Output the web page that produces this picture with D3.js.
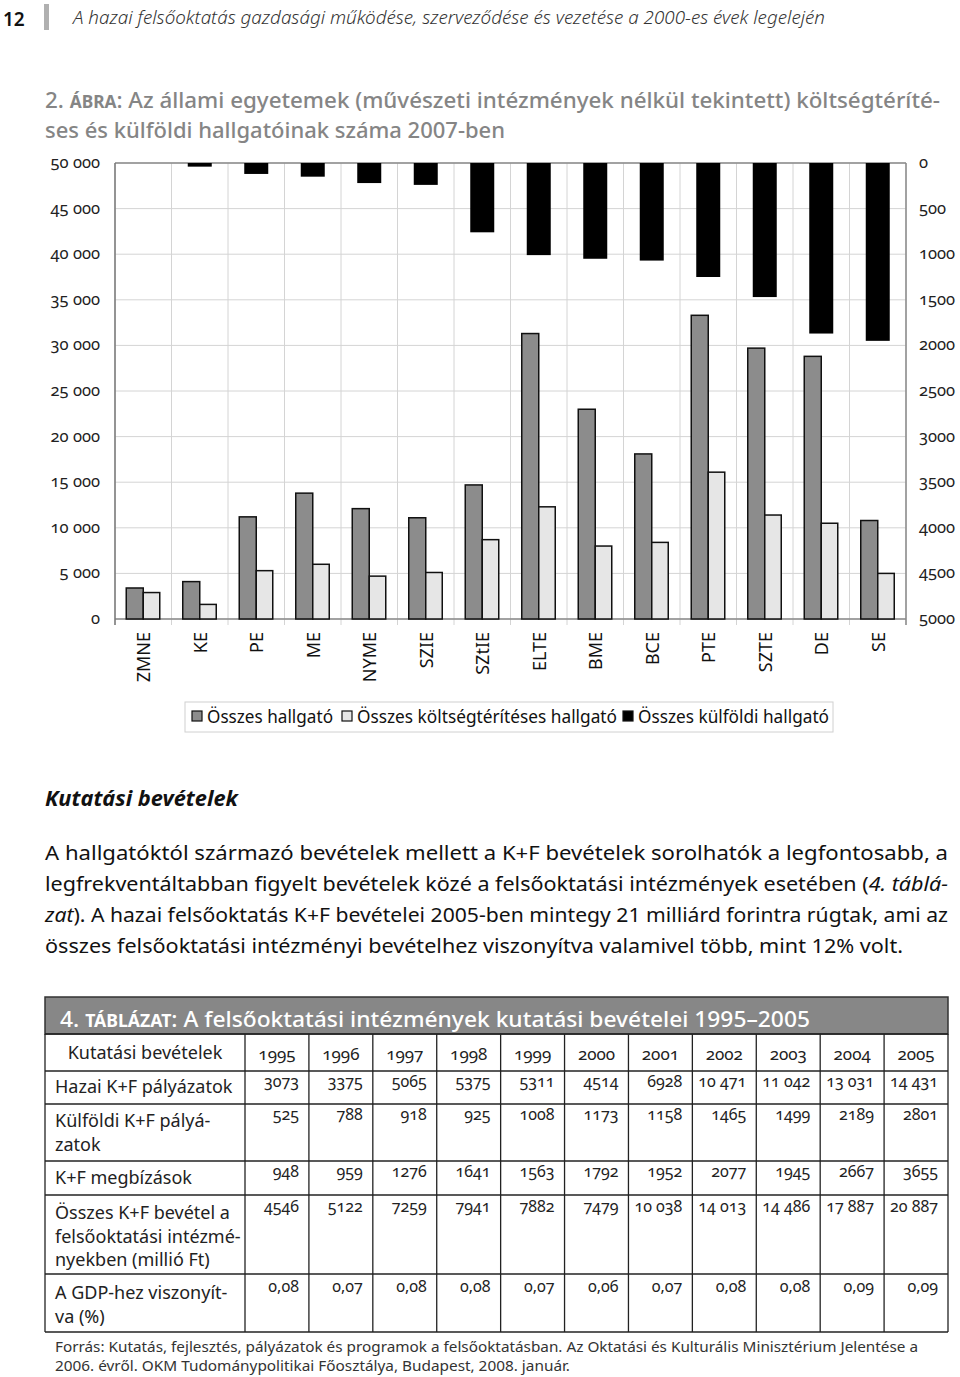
<!DOCTYPE html>
<meta charset="utf-8">
<style>
body { margin: 0; background: #fff; }
svg text { font-family: "Noto Sans", "Open Sans", sans-serif; }
.tick { font-size: 16.5px; fill: #222; font-variant-numeric: oldstyle-nums; }
.cat { font-size: 18px; fill: #111; }
.leg { font-size: 18px; fill: #111; }
.body { font-size: 20px; fill: #111; }
.cell { font-size: 16px; fill: #222; font-variant-numeric: oldstyle-nums; }
.rowlab { font-size: 18px; fill: #222; }
</style>
<script src="https://cdn.jsdelivr.net/npm/d3@7"></script>
<body>
<script>

// chart data
var universities = ["ZMNE", "KE", "PE", "ME", "NYME", "SZIE", "SZtIE", "ELTE", "BME", "BCE", "PTE", "SZTE", "DE", "SE"];
var osszesHallgato = [3400, 4100, 11200, 13800, 12100, 11100, 14700, 31300, 23000, 18100, 33300, 29700, 28800, 10800];
var koltsegterites = [2900, 1600, 5300, 6000, 4700, 5100, 8700, 12300, 8000, 8400, 16100, 11400, 10500, 5000];
var kulfoldi = [0, 40, 120, 150, 220, 240, 760, 1010, 1050, 1070, 1250, 1470, 1870, 1950];
var leftTicks = [0, 5000, 10000, 15000, 20000, 25000, 30000, 35000, 40000, 45000, 50000];
var rightTicks = [0, 500, 1000, 1500, 2000, 2500, 3000, 3500, 4000, 4500, 5000];
var legendLabels = ["Összes hallgató", "Összes költségtérítéses hallgató", "Összes külföldi hallgató"];

// table data
var years = [1995, 1996, 1997, 1998, 1999, 2000, 2001, 2002, 2003, 2004, 2005];
var hazaiKF = [3073, 3375, 5065, 5375, 5311, 4514, 6928, 10471, 11042, 13031, 14431];
var kulfoldiKF = [525, 788, 918, 925, 1008, 1173, 1158, 1465, 1499, 2189, 2801];
var kfMegbizasok = [948, 959, 1276, 1641, 1563, 1792, 1952, 2077, 1945, 2667, 3655];
var osszesKF = [4546, 5122, 7259, 7941, 7882, 7479, 10038, 14013, 14486, 17887, 20887];
var gdpArany = [0.08, 0.07, 0.08, 0.08, 0.07, 0.06, 0.07, 0.08, 0.08, 0.09, 0.09];

var width = 960, height = 1377;

var svg = d3.select("body").append("svg")
    .attr("width", width)
    .attr("height", height);

// ---- page header
svg.append("text").attr("x", 3).attr("y", 26)
    .style("font-size", "19px").style("font-weight", 600).attr("fill", "#111").text("12");
svg.append("rect").attr("x", 44).attr("y", 4).attr("width", 5).attr("height", 26).attr("fill", "#b0b0b0");
svg.append("text").attr("x", 73).attr("y", 24)
    .attr("textLength", 752).attr("lengthAdjust", "spacingAndGlyphs")
    .style("font-size", "18px").style("font-style", "italic").style("font-weight", 300).attr("fill", "#333")
    .text("A hazai felsőoktatás gazdasági működése, szerveződése és vezetése a 2000-es évek legelején");

// ---- figure title
var t1 = svg.append("text").attr("x", 45).attr("y", 108)
    .attr("textLength", 895).attr("lengthAdjust", "spacingAndGlyphs")
    .style("font-size", "22px").style("font-weight", 500).attr("fill", "#858585");
t1.append("tspan").text("2. ");
t1.append("tspan").style("font-size", "17px").style("font-weight", 700).text("ÁBRA");
t1.append("tspan").text(": Az állami egyetemek (művészeti intézmények nélkül tekintett) költségtéríté-");
svg.append("text").attr("x", 45).attr("y", 138)
    .attr("textLength", 460).attr("lengthAdjust", "spacingAndGlyphs")
    .style("font-size", "22px").style("font-weight", 500).attr("fill", "#858585")
    .text("ses és külföldi hallgatóinak száma 2007-ben");

// ---- bar chart
var x = d3.scaleBand().domain(universities).range([115, 906]);
var yL = d3.scaleLinear().domain([0, 50000]).range([619, 163]);
var yR = d3.scaleLinear().domain([0, 5000]).range([163, 619]);

var chart = svg.append("g");

chart.selectAll(".hgrid").data(leftTicks).enter().append("line")
    .attr("x1", 115).attr("x2", 906)
    .attr("y1", function(d) { return yL(d); }).attr("y2", function(d) { return yL(d); })
    .attr("stroke", "#d4d4d4");

var bounds = universities.map(function(d) { return x(d); }).concat([906]);
chart.selectAll(".vgrid").data(bounds).enter().append("line")
    .attr("x1", function(d) { return d; }).attr("x2", function(d) { return d; })
    .attr("y1", 163).attr("y2", 625)
    .attr("stroke", "#d4d4d4");

// frame
chart.append("line").attr("x1", 115).attr("x2", 906).attr("y1", 163).attr("y2", 163).attr("stroke", "#8a8a8a").attr("stroke-width", 1.5);
chart.append("line").attr("x1", 115).attr("x2", 906).attr("y1", 619).attr("y2", 619).attr("stroke", "#8a8a8a").attr("stroke-width", 1.5);
chart.append("line").attr("x1", 115).attr("x2", 115).attr("y1", 163).attr("y2", 625).attr("stroke", "#777").attr("stroke-width", 1.5);
chart.append("line").attr("x1", 906).attr("x2", 906).attr("y1", 163).attr("y2", 625).attr("stroke", "#8a8a8a").attr("stroke-width", 1.5);

var half = x.bandwidth() / 2;

chart.selectAll(".gray").data(osszesHallgato).enter().append("rect")
    .attr("x", function(d, i) { return x(universities[i]) + half - 17; })
    .attr("width", 17)
    .attr("y", function(d) { return yL(d); })
    .attr("height", function(d) { return 619 - yL(d); })
    .attr("fill", "#8c8c8c").attr("stroke", "#111").attr("stroke-width", 1.5);

chart.selectAll(".light").data(koltsegterites).enter().append("rect")
    .attr("x", function(d, i) { return x(universities[i]) + half; })
    .attr("width", 16.5)
    .attr("y", function(d) { return yL(d); })
    .attr("height", function(d) { return 619 - yL(d); })
    .attr("fill", "#e6e6e6").attr("stroke", "#111").attr("stroke-width", 1.5);

chart.selectAll(".black").data(kulfoldi).enter().append("rect")
    .attr("x", function(d, i) { return x(universities[i]) + half - 12; })
    .attr("width", 24)
    .attr("y", 163)
    .attr("height", function(d) { return yR(d) - 163; })
    .attr("fill", "#000");

// axes labels
var fmt = function(d) { return d3.format(",")(d).replace(/,/g, " "); };
chart.selectAll(".lt").data(leftTicks).enter().append("text")
    .attr("class", "tick")
    .attr("x", 100).attr("y", function(d) { return yL(d) + 5; })
    .attr("text-anchor", "end")
    .text(fmt);
chart.selectAll(".rt").data(rightTicks).enter().append("text")
    .attr("class", "tick")
    .attr("x", 919).attr("y", function(d) { return yR(d) + 5; })
    .text(function(d) { return d; });

chart.selectAll(".cat").data(universities).enter().append("text")
    .attr("class", "cat")
    .attr("text-anchor", "end")
    .attr("transform", function(d) { return "translate(" + (x(d) + half + 7) + ",632) rotate(-90)"; })
    .text(function(d) { return d; });

// legend
var leg = svg.append("g");
leg.append("rect").attr("x", 185).attr("y", 702).attr("width", 648).attr("height", 30)
    .attr("fill", "#fff").attr("stroke", "#d0d0d0");
var legFill = ["#8c8c8c", "#e6e6e6", "#000"];
var legX = [192, 342, 623];
var legW = [126, 260, 191];
legendLabels.forEach(function(l, i) {
  leg.append("rect").attr("x", legX[i]).attr("y", 711).attr("width", 10).attr("height", 10)
      .attr("fill", legFill[i]).attr("stroke", "#111").attr("stroke-width", 1.2);
  leg.append("text").attr("class", "leg").attr("x", legX[i] + 15).attr("y", 723)
      .attr("textLength", legW[i]).attr("lengthAdjust", "spacingAndGlyphs")
      .text(l);
});

// ---- section text
svg.append("text").attr("x", 45).attr("y", 806)
    .attr("textLength", 193).attr("lengthAdjust", "spacingAndGlyphs")
    .style("font-size", "22px").style("font-weight", 700).style("font-style", "italic").attr("fill", "#111")
    .text("Kutatási bevételek");

var para = [
  [["A hallgatóktól származó bevételek mellett a K+F bevételek sorolhatók a legfontosabb, a", false]],
  [["legfrekventáltabban figyelt bevételek közé a felsőoktatási intézmények esetében (", false], ["4. táblá-", true]],
  [["zat", true], ["). A hazai felsőoktatás K+F bevételei 2005-ben mintegy 21 milliárd forintra rúgtak, ami az", false]],
  [["összes felsőoktatási intézményi bevételhez viszonyítva valamivel több, mint 12% volt.", false]]
];
var paraW = [903, 903, 903, 858];
para.forEach(function(line, i) {
  var t = svg.append("text").attr("class", "body").attr("x", 45).attr("y", 860 + i * 31)
      .attr("textLength", paraW[i]).attr("lengthAdjust", "spacingAndGlyphs");
  line.forEach(function(p) {
    t.append("tspan").style("font-style", p[1] ? "italic" : "normal").text(p[0]);
  });
});

// ---- table
var tab = svg.append("g");
tab.append("rect").attr("x", 45).attr("y", 997).attr("width", 903).attr("height", 37)
    .attr("fill", "#878787").attr("stroke", "#333").attr("stroke-width", 1.5);
var th = tab.append("text").attr("x", 60).attr("y", 1027)
    .attr("textLength", 750).attr("lengthAdjust", "spacingAndGlyphs")
    .style("font-size", "22px").style("font-weight", 500).attr("fill", "#fff");
th.append("tspan").text("4. ");
th.append("tspan").style("font-size", "17px").style("font-weight", 700).text("TÁBLÁZAT");
th.append("tspan").text(": A felsőoktatási intézmények kutatási bevételei 1995–2005");

var rowLines = [1034, 1071, 1104, 1161, 1195, 1274, 1332];
var colX = d3.scaleBand().domain(years).range([245, 948]);

rowLines.forEach(function(y) {
  tab.append("line").attr("x1", 45).attr("x2", 948).attr("y1", y).attr("y2", y)
      .attr("stroke", "#222").attr("stroke-width", 1.3);
});
[45].concat(years.map(function(d) { return colX(d); })).concat([948]).forEach(function(cx) {
  tab.append("line").attr("x1", cx).attr("x2", cx).attr("y1", 1034).attr("y2", 1332)
      .attr("stroke", "#222").attr("stroke-width", 1.3);
});

// header row
tab.append("text").attr("class", "rowlab").attr("x", 145).attr("y", 1059).attr("text-anchor", "middle")
    .text("Kutatási bevételek");
tab.selectAll(".yr").data(years).enter().append("text")
    .attr("class", "cell").style("font-size", "17px")
    .attr("x", function(d) { return colX(d) + colX.bandwidth() / 2; })
    .attr("y", 1060).attr("text-anchor", "middle")
    .text(function(d) { return d; });

var numFmt = function(v) {
  if (v < 1) return d3.format(".2f")(v).replace(".", ",");
  return v >= 10000 ? fmt(v) : String(v);
};

var rows = [
  { label: ["Hazai K+F pályázatok"], labY: 1093, vals: hazaiKF, valY: 1087 },
  { label: ["Külföldi K+F pályá-", "zatok"], labY: 1127, vals: kulfoldiKF, valY: 1120 },
  { label: ["K+F megbízások"], labY: 1184, vals: kfMegbizasok, valY: 1177 },
  { label: ["Összes K+F bevétel a", "felsőoktatási intézmé-", "nyekben (millió Ft)"], labY: 1219, vals: osszesKF, valY: 1212 },
  { label: ["A GDP-hez viszonyít-", "va (%)"], labY: 1299, vals: gdpArany, valY: 1292 }
];
rows.forEach(function(r) {
  r.label.forEach(function(l, j) {
    tab.append("text").attr("class", "rowlab").attr("x", 55).attr("y", r.labY + j * 23.5).text(l);
  });
  tab.selectAll(null).data(r.vals).enter().append("text")
      .attr("class", "cell")
      .attr("x", function(d, i) { return colX(years[i]) + colX.bandwidth() - 10; })
      .attr("y", r.valY).attr("text-anchor", "end")
      .text(numFmt);
});

// source note
svg.append("text").attr("x", 55).attr("y", 1352)
    .attr("textLength", 863).attr("lengthAdjust", "spacingAndGlyphs")
    .style("font-size", "14px").attr("fill", "#333")
    .text("Forrás: Kutatás, fejlesztés, pályázatok és programok a felsőoktatásban. Az Oktatási és Kulturális Minisztérium Jelentése a");
svg.append("text").attr("x", 55).attr("y", 1371)
    .attr("textLength", 515).attr("lengthAdjust", "spacingAndGlyphs")
    .style("font-size", "14px").attr("fill", "#333")
    .text("2006. évről. OKM Tudománypolitikai Főosztálya, Budapest, 2008. január.");

</script>
</body>
